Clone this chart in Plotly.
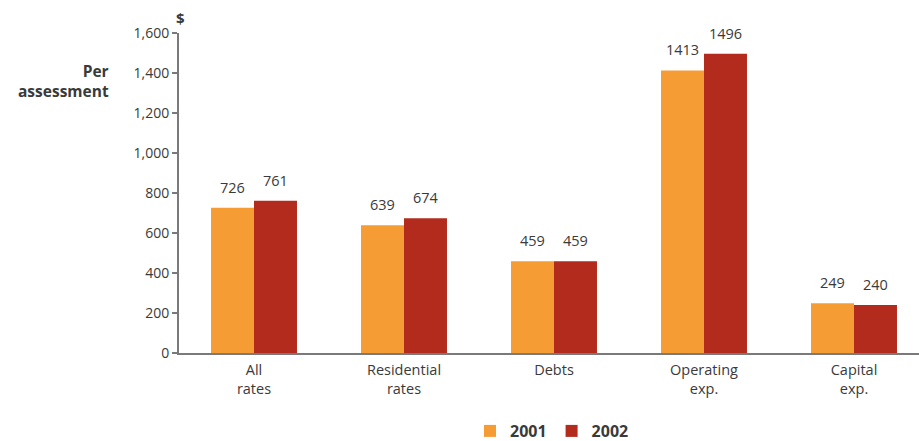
import plotly.graph_objects as go

categories = ["All<br>rates", "Residential<br>rates", "Debts", "Operating<br>exp.", "Capital<br>exp."]
values_2001 = [726, 639, 459, 1413, 249]
values_2002 = [761, 674, 459, 1496, 240]
y_ticks = [0, 200, 400, 600, 800, 1000, 1200, 1400, 1600]

ORANGE = "#F59C34"
RED = "#B22B1D"
TEXT = "#3a3a3a"
AXIS = "#7a7a7a"
FONT = "Open Sans, Lato, sans-serif"

fig = go.Figure()
fig.add_trace(go.Bar(x=categories, y=values_2001, name="<b>2001</b>", marker_color=ORANGE,
                     marker_line_width=0))
fig.add_trace(go.Bar(x=categories, y=values_2002, name="<b>2002</b>", marker_color=RED,
                     marker_line_width=0))

# value labels above each bar
annotations = []
for i, cat in enumerate(categories):
    for val, shift in ((values_2001[i], -21.5), (values_2002[i], 21.5)):
        annotations.append(dict(x=cat, y=val, xref="x", yref="y", text=str(val),
                                showarrow=False, xshift=shift, yshift=9,
                                yanchor="bottom", font=dict(size=14.5, color=TEXT, family=FONT)))

annotations.append(dict(x=(180 - 179) / 740, y=(353 - 18) / 320, xref="paper", yref="paper",
                        text="<b>$</b>", showarrow=False, xanchor="center", yanchor="middle",
                        font=dict(size=15, color=TEXT, family=FONT)))
annotations.append(dict(x=(111 - 179) / 740, y=(353 - 81) / 320, xref="paper", yref="paper",
                        text="<b>Per<br>assessment</b>", showarrow=False, xanchor="right",
                        yanchor="middle", align="right",
                        font=dict(size=15.5, color=TEXT, family=FONT)))

fig.update_layout(
    width=919, height=441,
    margin=dict(l=179, r=0, t=33, b=88, pad=0, autoexpand=False),
    plot_bgcolor="white", paper_bgcolor="white",
    barmode="group", bargap=0.427, bargroupgap=0,
    font=dict(family=FONT, color=TEXT, size=14),
    showlegend=True,
    legend=dict(orientation="h", x=(470 - 179) / 740, y=-(431 - 353) / 320,
                xanchor="left", yanchor="middle",
                font=dict(size=16, color=TEXT, family=FONT), itemwidth=30,
                traceorder="normal", bgcolor="rgba(0,0,0,0)"),
    annotations=annotations,
    xaxis=dict(range=[-0.5, -0.5 + 740 / 150], showline=True, linecolor=AXIS, linewidth=2,
               ticks="", showgrid=False, tickfont=dict(size=14.5, color=TEXT, family=FONT),
               ticklabelstandoff=3, fixedrange=True),
    yaxis=dict(range=[0, 1600], tickvals=y_ticks, tickformat=",", showline=True,
               linecolor=AXIS, linewidth=2, ticks="outside", ticklen=5, tickwidth=1.5,
               tickcolor=AXIS, showgrid=False, zeroline=False,
               tickfont=dict(size=14, color=TEXT, family=FONT), fixedrange=True),
)

fig.write_html("out.html")
